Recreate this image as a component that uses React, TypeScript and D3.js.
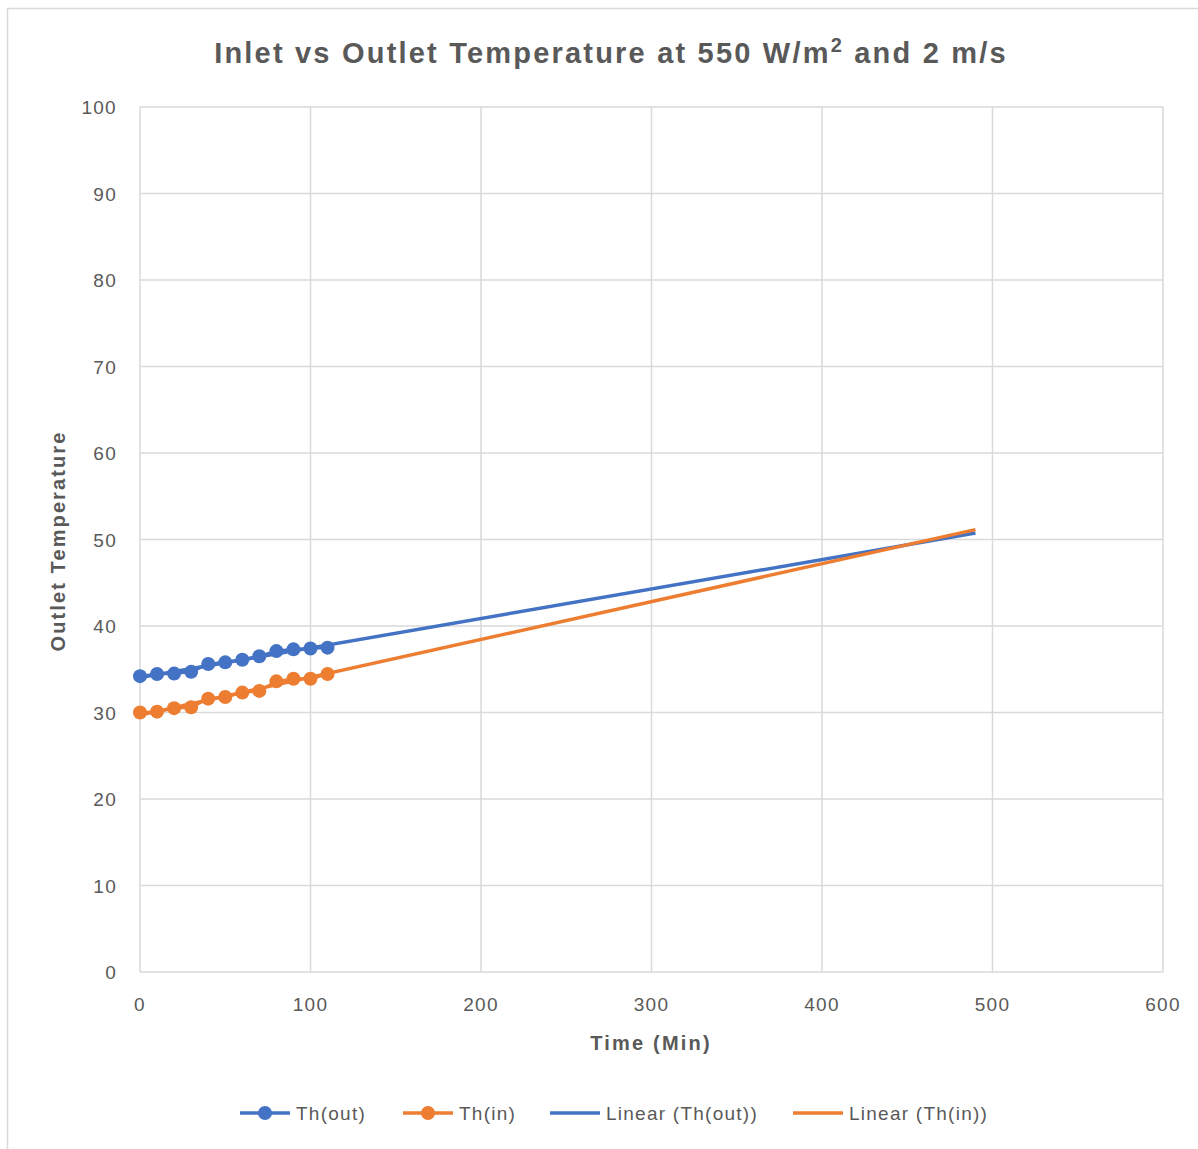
import React from "react";
import * as d3 from "d3";

const timeMin = [0, 10, 20, 30, 40, 50, 60, 70, 80, 90, 100, 110];
const thOut = [34.2, 34.45, 34.5, 34.7, 35.6, 35.8, 36.1, 36.5, 37.1, 37.3, 37.4, 37.5];
const thIn = [30.0, 30.1, 30.5, 30.6, 31.6, 31.8, 32.3, 32.5, 33.6, 33.9, 33.9, 34.45];
const trendEnd = 490;
const xTicks = [0, 100, 200, 300, 400, 500, 600];
const yTicks = [0, 10, 20, 30, 40, 50, 60, 70, 80, 90, 100];

const BLUE = "#4472C4";
const ORANGE = "#ED7D31";
const TEXT = "#595959";
const GRID = "#d9d9d9";
const FONT = "'Liberation Sans', Arial, sans-serif";

function linReg(xs: number[], ys: number[]) {
  const mx = d3.mean(xs)!;
  const my = d3.mean(ys)!;
  let sxy = 0, sxx = 0;
  xs.forEach((x, i) => { sxy += (x - mx) * (ys[i] - my); sxx += (x - mx) ** 2; });
  const slope = sxy / sxx;
  return { slope, intercept: my - slope * mx };
}

export default function App() {
  const left = 140, right = 1163, top = 107, bottom = 972;
  const x = d3.scaleLinear().domain([0, 600]).range([left, right]);
  const y = d3.scaleLinear().domain([0, 100]).range([bottom, top]);
  const line = d3.line<[number, number]>().x(d => x(d[0])).y(d => y(d[1]));

  const series = [
    { name: "Th(out)", vals: thOut, color: BLUE },
    { name: "Th(in)", vals: thIn, color: ORANGE },
  ];

  const trends = series.map(s => {
    const r = linReg(timeMin, s.vals);
    return { color: s.color, pts: [[0, r.intercept], [trendEnd, r.intercept + r.slope * trendEnd]] as [number, number][] };
  });

  const legend = [
    { label: "Th(out)", color: BLUE, marker: true, x0: 240 },
    { label: "Th(in)", color: ORANGE, marker: true, x0: 403 },
    { label: "Linear (Th(out))", color: BLUE, marker: false, x0: 550 },
    { label: "Linear (Th(in))", color: ORANGE, marker: false, x0: 793 },
  ];

  return (
    <svg width={1198} height={1149} style={{ position: "absolute", left: 0, top: 0, background: "#fff" }} fontFamily={FONT}>
      <rect x={7.5} y={8.5} width={1300} height={1300} fill="#fff" stroke={GRID} strokeWidth={1.5} />
      <text x={611} y={63} textAnchor="middle" fontSize={29} fontWeight="bold" fill={TEXT} letterSpacing={2.2}>
        Inlet vs Outlet Temperature at 550 W/m<tspan dy={-11} fontSize={20}>2</tspan><tspan dy={11}> and 2 m/s</tspan>
      </text>
      {yTicks.map(t => (
        <g key={"y" + t}>
          <line x1={left} x2={right} y1={y(t)} y2={y(t)} stroke={GRID} strokeWidth={1.5} />
          <text x={117} y={y(t) + 7} textAnchor="end" fontSize={19} fill={TEXT} letterSpacing={1.3}>{t}</text>
        </g>
      ))}
      {xTicks.map(t => (
        <g key={"x" + t}>
          <line x1={x(t)} x2={x(t)} y1={top} y2={bottom} stroke={GRID} strokeWidth={1.5} />
          <text x={x(t)} y={1011} textAnchor="middle" fontSize={19} fill={TEXT} letterSpacing={1.3}>{t}</text>
        </g>
      ))}
      <text x={651} y={1050} textAnchor="middle" fontSize={20} fontWeight="bold" fill={TEXT} letterSpacing={2.2}>Time (Min)</text>
      <text transform="translate(65,541) rotate(-90)" textAnchor="middle" fontSize={20} fontWeight="bold" fill={TEXT} letterSpacing={2.1}>Outlet Temperature</text>
      {series.map(s => (
        <path key={"l" + s.name} d={line(timeMin.map((t, i) => [t, s.vals[i]] as [number, number]))!} fill="none" stroke={s.color} strokeWidth={3} />
      ))}
      {trends.map((tr, i) => (
        <path key={"t" + i} d={line(tr.pts)!} fill="none" stroke={tr.color} strokeWidth={3.5} />
      ))}
      {series.map(s => timeMin.map((t, i) => (
        <circle key={s.name + i} cx={x(t)} cy={y(s.vals[i])} r={7} fill={s.color} />
      )))}
      {legend.map(l => (
        <g key={l.label}>
          <line x1={l.x0} x2={l.x0 + 50} y1={1113} y2={1113} stroke={l.color} strokeWidth={3.5} />
          {l.marker && <circle cx={l.x0 + 25} cy={1113} r={7} fill={l.color} />}
          <text x={l.x0 + 56} y={1120} fontSize={19} fill={TEXT} letterSpacing={1.25}>{l.label}</text>
        </g>
      ))}
    </svg>
  );
}
